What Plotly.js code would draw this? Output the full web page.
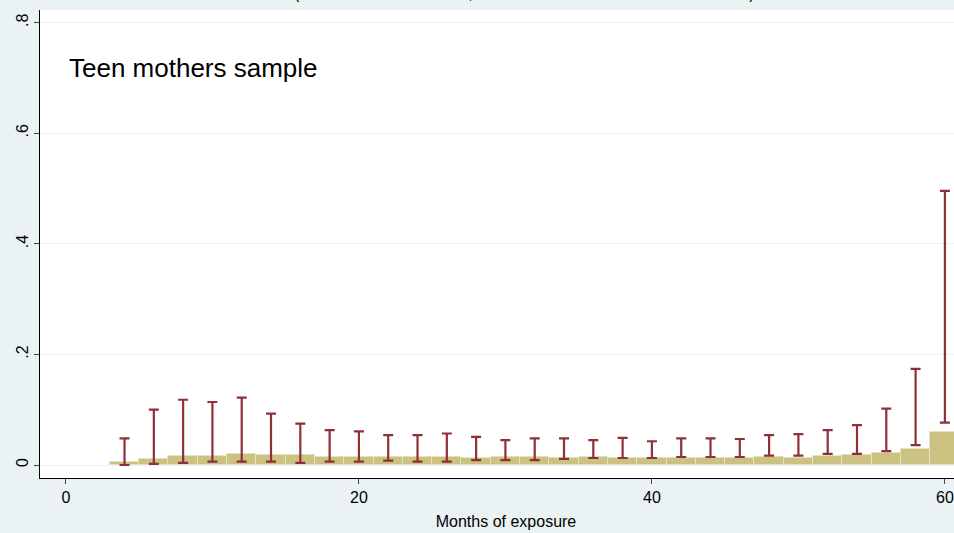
<!DOCTYPE html>
<html>
<head>
<meta charset="utf-8">
<script src="https://cdn.plot.ly/plotly-3.0.1.min.js"></script>
<style>html,body{margin:0;padding:0;background:#eaf2f3;overflow:hidden;}</style>
</head>
<body>
<div style="width:954px;height:533px;overflow:hidden;">
<div id="chart" style="width:972px;height:533px;"></div>
</div>
<script>
// months of exposure (bar centres, 2-month bins)
const months = [4, 6, 8, 10, 12, 14, 16, 18, 20, 22, 24, 26, 28, 30, 32, 34, 36, 38, 40, 42, 44, 46, 48, 50, 52, 54, 56, 58, 60];
// estimated hazard
const hazard = [0.005, 0.011, 0.016, 0.016, 0.020, 0.0175, 0.0175, 0.015, 0.015, 0.014, 0.014, 0.014, 0.0135, 0.014,
    0.015, 0.0127, 0.014, 0.0127, 0.0127, 0.0127, 0.0127, 0.0127, 0.014, 0.0127, 0.016, 0.018, 0.0217, 0.029, 0.059];
// confidence interval bounds
const ciHigh = [0.048, 0.100, 0.118, 0.114, 0.122, 0.093, 0.075, 0.063, 0.061, 0.054, 0.054, 0.057, 0.051, 0.045,
    0.048, 0.048, 0.045, 0.049, 0.043, 0.048, 0.048, 0.047, 0.054, 0.056, 0.063, 0.072, 0.102, 0.174, 0.496];
const ciLow = [0.000, 0.002, 0.004, 0.006, 0.006, 0.006, 0.004, 0.006, 0.006, 0.008, 0.006, 0.006, 0.009, 0.009,
    0.009, 0.011, 0.0127, 0.0127, 0.0127, 0.0145, 0.0145, 0.0145, 0.017, 0.017, 0.020, 0.020, 0.025, 0.036, 0.0765];

const yTicks = [0, 0.2, 0.4, 0.6, 0.8];
const yTickText = ['0', '.2', '.4', '.6', '.8'];
const xTicks = [0, 20, 40, 60];

const bars = {
    x: months, y: hazard, type: 'bar', width: 2,
    marker: { color: '#cbc281', line: { color: '#e6e2bd', width: 1 } },
    hoverinfo: 'x+y'
};

const ci = {
    x: months,
    y: months.map((m, i) => (ciHigh[i] + ciLow[i]) / 2),
    type: 'scatter', mode: 'markers',
    marker: { size: 1, color: 'rgba(0,0,0,0)' },
    error_y: {
        type: 'data', symmetric: true,
        array: months.map((m, i) => (ciHigh[i] - ciLow[i]) / 2),
        color: '#8e2f3a', thickness: 2.2, width: 5
    }
};

// plot spans px 40..972; 14.65 px per month with 0 at px 66
const layout = {
    width: 972, height: 533,
    margin: { l: 40, r: 0, t: 10, b: 55 },
    paper_bgcolor: '#eaf2f3', plot_bgcolor: '#ffffff',
    font: { family: 'Arial, "Liberation Sans", sans-serif', size: 16, color: '#000' },
    showlegend: false,
    bargap: 0,
    xaxis: {
        range: [-1.77, 61.85], tickvals: xTicks, ticks: 'outside', ticklen: 5,
        showgrid: false, zeroline: false, showline: true, linecolor: '#000', linewidth: 1,
        title: { text: 'Months of exposure', font: { size: 16 }, standoff: 10 }
    },
    yaxis: {
        range: [-0.0235, 0.823], tickvals: yTicks, ticktext: yTickText, tickangle: -90,
        ticks: 'outside', ticklen: 5, gridcolor: '#eaf2f3', zeroline: false,
        showline: true, linecolor: '#000', linewidth: 1
    },
    annotations: [
        {
            text: 'Teen mothers sample', xref: 'paper', yref: 'paper',
            x: 0.029, y: 0.876, xanchor: 'left', yanchor: 'middle',
            showarrow: false, font: { size: 26 }
        },
        {
            text: '(solid bars are estimates, whiskers are 95% confidence intervals)', xref: 'paper', yref: 'paper',
            x: 0.52, y: 1.012, xanchor: 'center', yanchor: 'bottom',
            showarrow: false, font: { size: 16 }
        }
    ]
};

Plotly.newPlot('chart', [bars, ci], layout, { displayModeBar: false });
</script>
</body>
</html>
